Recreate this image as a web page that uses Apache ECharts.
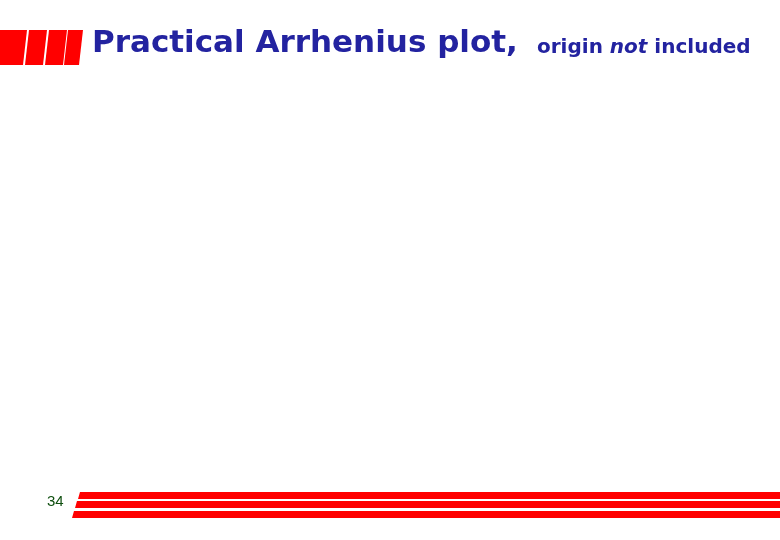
<!DOCTYPE html>
<html>
<head>
<meta charset="utf-8">
<script src="https://cdn.jsdelivr.net/npm/echarts@6/dist/echarts.min.js"></script>
<style>
  html, body { margin: 0; padding: 0; background: #fff; }
  #main { width: 780px; height: 540px; }
</style>
</head>
<body>
<div id="main"></div>
<script>
// slide texts
var titleMain = 'Practical Arrhenius plot,';
var titleSub = ['origin ', 'not', ' included'];
var pageNumber = '34';

var red = '#ff0000';
var blue = '#2323a0';

var chart = echarts.init(document.getElementById('main'));

// slanted blocks at top left
var blocks = [];
var tops = [[0, 27], [29, 47], [49, 67], [68, 83]];
tops.forEach(function (t, i) {
  var x0 = t[0], x1 = t[1];
  var pts = [[x0, 30], [x1, 30], [x1 - 4, 65], [i === 0 ? 0 : x0 - 4, 65]];
  blocks.push({
    type: 'polygon',
    shape: { points: pts },
    style: { fill: red }
  });
});

// stripes at the bottom
var stripes = [[492, 7, 78], [501, 7, 75], [511, 7, 72]].map(function (s) {
  return {
    type: 'polygon',
    shape: { points: [[s[2] + 2, s[0]], [780, s[0]], [780, s[0] + s[1]], [s[2], s[0] + s[1]]] },
    style: { fill: red }
  };
});

var option = {
  backgroundColor: '#fff',
  animation: false,
  graphic: blocks.concat(stripes).concat([
    {
      type: 'text',
      left: 92,
      top: 28,
      style: {
        text: titleMain,
        font: 'bold 31px "DejaVu Sans", sans-serif',
        fill: blue
      }
    },
    {
      type: 'text',
      left: 537,
      top: 38,
      style: {
        text: '{a|' + titleSub[0] + '}{b|' + titleSub[1] + '}{a|' + titleSub[2] + '}',
        rich: {
          a: { fontFamily: 'DejaVu Sans', fontSize: 20, fill: blue, fontWeight: 'bold' },
          b: { fontFamily: 'DejaVu Sans', fontSize: 20, fill: blue, fontStyle: 'italic', fontWeight: 'bold' }
        }
      }
    },
    {
      type: 'text',
      left: 47,
      top: 494,
      style: {
        text: pageNumber,
        font: '15px "Liberation Sans", Arial, sans-serif',
        fill: '#0f4f0f'
      }
    }
  ])
};

chart.setOption(option);
</script>
</body>
</html>
